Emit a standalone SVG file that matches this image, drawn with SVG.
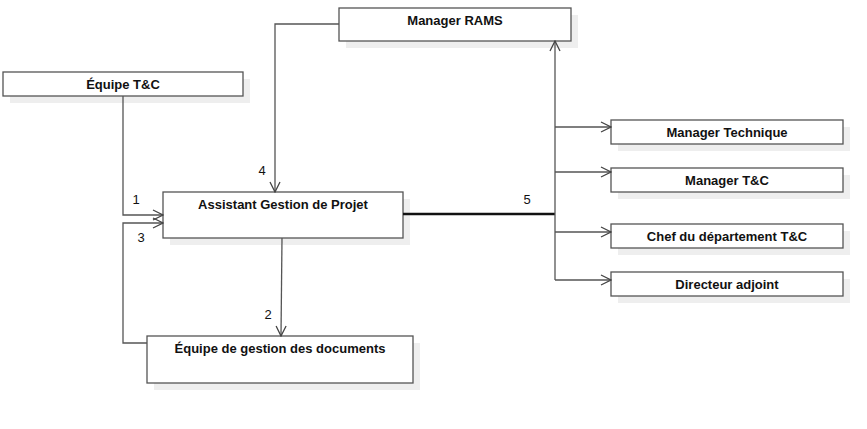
<svg xmlns="http://www.w3.org/2000/svg" width="867" height="429" viewBox="0 0 867 429">
<style>
.box{fill:#fff;stroke:#555;stroke-width:1.3}
.sh{fill:#eeeeee}
.t{font-family:"Liberation Sans",Arial,sans-serif;font-size:13px;font-weight:bold;fill:#111;text-anchor:middle}
.n{font-family:"Liberation Sans",Arial,sans-serif;font-size:13px;fill:#111;text-anchor:middle}
.c{fill:none;stroke:#555;stroke-width:1.3}
.thick{fill:none;stroke:#111;stroke-width:2.5}
</style>
<defs>
<marker id="a" viewBox="0 0 12 12" refX="11" refY="6" markerWidth="12" markerHeight="12" markerUnits="userSpaceOnUse" orient="auto">
<path d="M1,1 L11,6 L1,11" fill="none" stroke="#444" stroke-width="1.3"/>
</marker>
</defs>
<rect width="867" height="429" fill="#fff"/>
<g id="equipe-tc">
<rect class="sh" x="10" y="79" width="240" height="24"/>
<rect class="box" x="3" y="72" width="240" height="24"/>
<text class="t" x="123" y="89">Équipe T&amp;C</text>
</g>
<g id="manager-rams">
<rect class="sh" x="346" y="15" width="232" height="33"/>
<rect class="box" x="339" y="8" width="232" height="33"/>
<text class="t" x="455" y="25">Manager RAMS</text>
</g>
<g id="assistant">
<rect class="sh" x="170" y="199" width="240" height="46"/>
<rect class="box" x="163" y="192" width="240" height="46"/>
<text class="t" x="283" y="209">Assistant Gestion de Projet</text>
</g>
<g id="equipe-doc">
<rect class="sh" x="154" y="343" width="266" height="47"/>
<rect class="box" x="147" y="336" width="266" height="47"/>
<text class="t" x="280" y="353">Équipe de gestion des documents</text>
</g>
<g id="manager-technique">
<rect class="sh" x="618" y="127" width="232" height="24"/>
<rect class="box" x="611" y="120" width="232" height="24"/>
<text class="t" x="727" y="137">Manager Technique</text>
</g>
<g id="manager-tc">
<rect class="sh" x="618" y="175" width="232" height="24"/>
<rect class="box" x="611" y="168" width="232" height="24"/>
<text class="t" x="727" y="185">Manager T&amp;C</text>
</g>
<g id="chef">
<rect class="sh" x="618" y="231" width="232" height="24"/>
<rect class="box" x="611" y="224" width="232" height="24"/>
<text class="t" x="727" y="241">Chef du département T&amp;C</text>
</g>
<g id="directeur">
<rect class="sh" x="618" y="279" width="232" height="24"/>
<rect class="box" x="611" y="272" width="232" height="24"/>
<text class="t" x="727" y="289">Directeur adjoint</text>
</g>
<g id="connectors">
<path class="c" d="M123,96 V215 H163" marker-end="url(#a)"/>
<path class="c" d="M147,343 H123 V223 H163" marker-end="url(#a)"/>
<path class="c" d="M339,24 H275 V192" marker-end="url(#a)"/>
<path class="c" d="M282,238 L281,336" marker-end="url(#a)"/>
<path class="thick" d="M403,214 H555"/>
<path class="c" d="M555,280 V41" marker-end="url(#a)"/>
<path class="c" d="M555,127 H611" marker-end="url(#a)"/>
<path class="c" d="M555,172 H611" marker-end="url(#a)"/>
<path class="c" d="M555,232 H611" marker-end="url(#a)"/>
<path class="c" d="M555,280 H611" marker-end="url(#a)"/>
<text class="n" x="136" y="204">1</text>
<text class="n" x="268" y="319">2</text>
<text class="n" x="141" y="242">3</text>
<text class="n" x="262" y="175">4</text>
<text class="n" x="527" y="204">5</text>
</g>
</svg>
